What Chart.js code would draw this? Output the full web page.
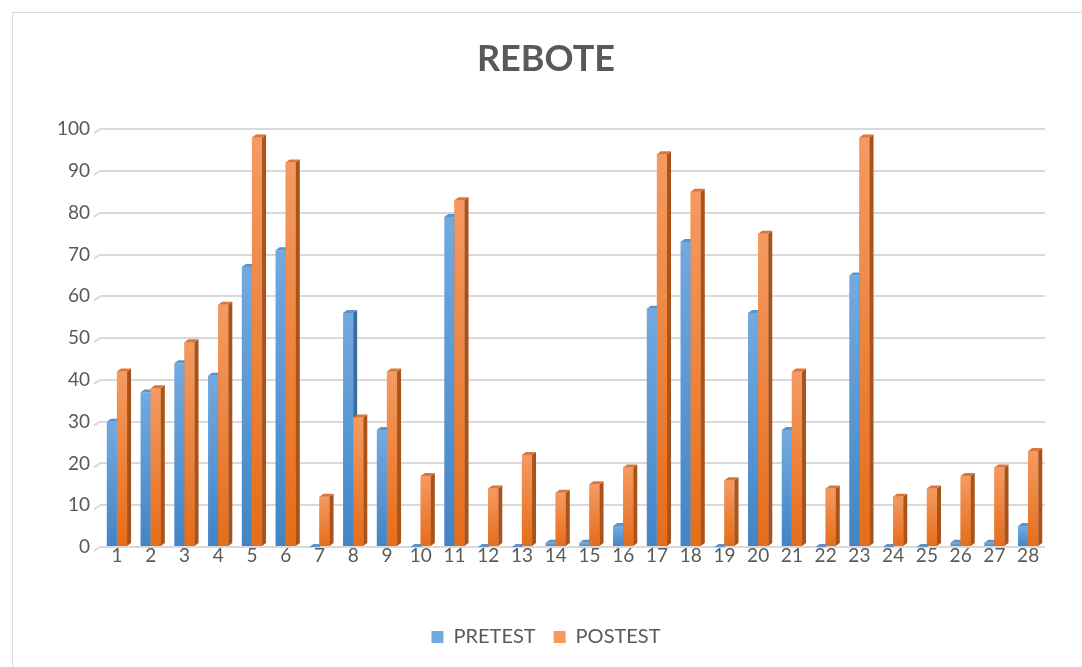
<!DOCTYPE html>
<html>
<head>
<meta charset="utf-8">
<script src="https://cdn.jsdelivr.net/npm/chart.js@4.4.1/dist/chart.umd.min.js"></script>
<style>
  html, body { margin: 0; padding: 0; background: #fff; }
  #wrap { width: 1082px; height: 667px; position: relative; }
</style>
</head>
<body>
<div id="wrap"><canvas id="chart" width="1082" height="667"></canvas></div>
<script>
'use strict';

var categories = ['1','2','3','4','5','6','7','8','9','10','11','12','13','14',
  '15','16','17','18','19','20','21','22','23','24','25','26','27','28'];
var pretest = [30, 37, 44, 41, 67, 71, 0, 56, 28, 0, 79, 0, 0, 1,
  1, 5, 57, 73, 0, 56, 28, 0, 65, 0, 0, 1, 1, 5];
var postest = [42, 38, 49, 58, 98, 92, 12, 31, 42, 17, 83, 14, 22, 13,
  15, 19, 94, 85, 16, 75, 42, 14, 98, 12, 14, 17, 19, 23];
var yTicks = [0, 10, 20, 30, 40, 50, 60, 70, 80, 90, 100];

var blue = { top: '#72aae0', bottom: '#4384c6', side: '#3a6c9e', lid: '#5d93c9' };
var orange = { top: '#f59a62', bottom: '#e56d19', side: '#a9531a', lid: '#d9773a' };
var textGrey = '#595959';
var gridGrey = '#d9d9d9';

// gradient per bar, lighter at the top
function barFill(colors) {
  return function(context) {
    var chart = context.chart;
    var scale = chart.scales.y;
    if (!scale || !chart.chartArea) return colors.bottom;
    var v = context.raw || 0;
    var y0 = scale.getPixelForValue(v);
    var y1 = scale.getPixelForValue(0);
    if (y1 - y0 < 1) return colors.bottom;
    var g = chart.ctx.createLinearGradient(0, y0, 0, y1);
    g.addColorStop(0, colors.top);
    g.addColorStop(1, colors.bottom);
    return g;
  };
}

var depth = 4;
var lift = 3;

function drawDepth(ctx, el, colors) {
  var half = el.width / 2;
  var r = el.x + half;
  var l = el.x - half;
  var top = el.y;
  var base = el.base;
  ctx.fillStyle = colors.side;
  ctx.beginPath();
  ctx.moveTo(r, top);
  ctx.lineTo(r + depth, top - lift);
  ctx.lineTo(r + depth, base - lift);
  ctx.lineTo(r, base);
  ctx.closePath();
  ctx.fill();
  ctx.fillStyle = colors.lid;
  ctx.beginPath();
  ctx.moveTo(l, top);
  ctx.lineTo(l + depth, top - lift);
  ctx.lineTo(r + depth, top - lift);
  ctx.lineTo(r, top);
  ctx.closePath();
  ctx.fill();
}

var bars3d = {
  id: 'bars3d',
  afterDatasetsDraw: function(chart) {
    var ctx = chart.ctx;
    var m0 = chart.getDatasetMeta(0);
    var m1 = chart.getDatasetMeta(1);
    ctx.save();
    for (var i = 0; i < m0.data.length; i++) {
      drawDepth(ctx, m0.data[i], blue);
      m1.data[i].draw(ctx);
      drawDepth(ctx, m1.data[i], orange);
    }
    ctx.restore();
  }
};

// white page, light frame, and the little slanted start of each gridline
var frame = {
  id: 'frame',
  beforeDraw: function(chart) {
    var ctx = chart.ctx;
    ctx.save();
    ctx.fillStyle = '#fff';
    ctx.fillRect(0, 0, chart.width, chart.height);
    ctx.strokeStyle = gridGrey;
    ctx.lineWidth = 1;
    ctx.strokeRect(12.5, 12.5, chart.width, chart.height);
    ctx.restore();
  },
  beforeDatasetsDraw: function(chart) {
    var ctx = chart.ctx;
    var y = chart.scales.y;
    var left = chart.chartArea.left;
    ctx.save();
    ctx.strokeStyle = gridGrey;
    ctx.lineWidth = 2;
    for (var i = 0; i < yTicks.length; i++) {
      var py = y.getPixelForValue(yTicks[i]);
      ctx.beginPath();
      ctx.moveTo(left, py);
      ctx.lineTo(left - 6, py + 4);
      ctx.stroke();
    }
    ctx.restore();
  }
};

var ctx = document.getElementById('chart').getContext('2d');

new Chart(ctx, {
  type: 'bar',
  data: {
    labels: categories,
    datasets: [
      {
        label: 'PRETEST',
        data: pretest,
        backgroundColor: barFill(blue),
        borderWidth: 0,
        categoryPercentage: 0.6,
        barPercentage: 1.0
      },
      {
        label: 'POSTEST',
        data: postest,
        backgroundColor: barFill(orange),
        borderWidth: 0,
        categoryPercentage: 0.6,
        barPercentage: 1.0
      }
    ]
  },
  options: {
    responsive: false,
    animation: false,
    layout: { padding: { top: 38, left: 47, right: 37, bottom: 10 } },
    plugins: {
      title: {
        display: true,
        text: 'REBOTE',
        color: textGrey,
        font: { family: 'Lato', size: 36, weight: 'bold' },
        padding: { top: 0, bottom: 48 }
      },
      legend: {
        position: 'bottom',
        labels: {
          color: textGrey,
          font: { family: 'Lato', size: 20 },
          boxWidth: 12,
          boxHeight: 12,
          padding: 18,
          generateLabels: function(chart) {
            return [
              { text: 'PRETEST', fillStyle: blue.top, strokeStyle: blue.top, lineWidth: 0, datasetIndex: 0, fontColor: textGrey },
              { text: 'POSTEST', fillStyle: orange.top, strokeStyle: orange.top, lineWidth: 0, datasetIndex: 1, fontColor: textGrey }
            ];
          }
        }
      },
      tooltip: { enabled: false }
    },
    scales: {
      x: {
        grid: { display: false, drawTicks: false },
        border: { display: false },
        ticks: { color: textGrey, font: { family: 'Lato', size: 19 }, padding: -3, maxRotation: 0, autoSkip: false },
        afterFit: function(axis) { axis.height = 62; }
      },
      y: {
        min: 0,
        max: 100,
        afterBuildTicks: function(axis) {
          axis.ticks = yTicks.map(function(v) { return { value: v }; });
        },
        grid: { color: gridGrey, lineWidth: 2, drawTicks: false },
        border: { display: false },
        ticks: { color: textGrey, font: { family: 'Lato', size: 19 }, padding: 10 }
      }
    }
  },
  plugins: [frame, bars3d]
});
</script>
</body>
</html>
